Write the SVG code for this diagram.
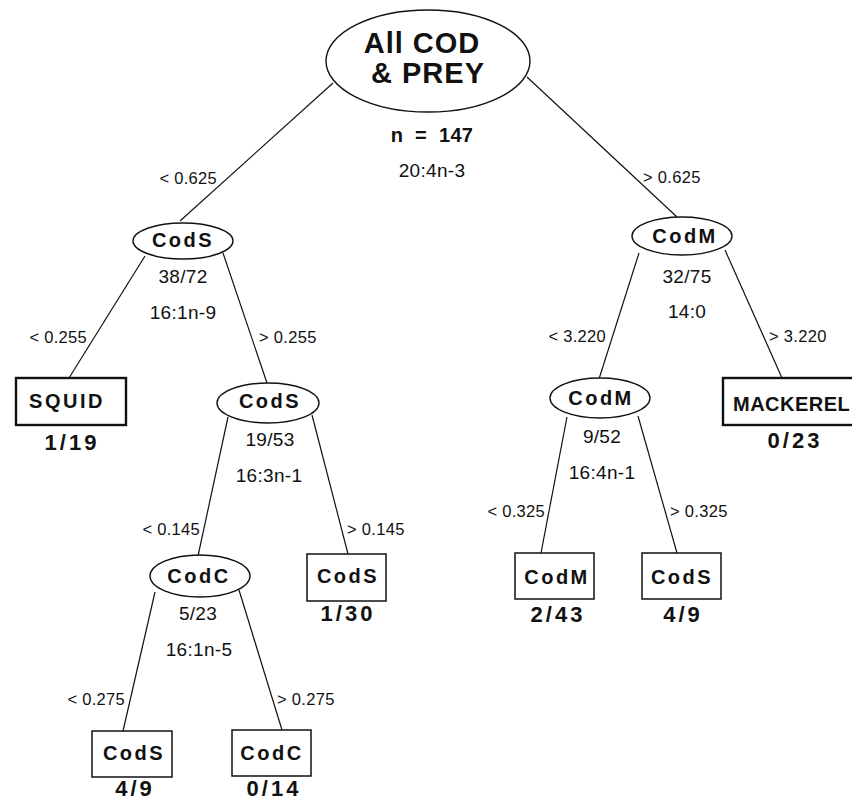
<svg xmlns="http://www.w3.org/2000/svg" width="852" height="800" viewBox="0 0 852 800">
  <style>
    .bg { fill: #ffffff; }
    .edge { stroke: #111; stroke-width: 1.2; fill: none; }
    .oval { fill: #fff; stroke: #111; stroke-width: 1.4; }
    .box { fill: #fff; stroke: #111; stroke-width: 1.5; }
    .box.heavy { stroke-width: 2.4; }
    .name { font-family: "Liberation Sans", Arial, sans-serif; font-weight: bold; font-size: 20px; letter-spacing: 2.5px; fill: #111; text-anchor: middle; }
    .root { font-family: "Liberation Sans", Arial, sans-serif; font-weight: bold; font-size: 29px; letter-spacing: 1px; fill: #111; text-anchor: middle; }
    .count { font-family: "Liberation Sans", Arial, sans-serif; font-weight: bold; font-size: 22px; letter-spacing: 3px; fill: #111; text-anchor: middle; }
    .stat { font-family: "Liberation Sans", Arial, sans-serif; font-size: 19px; letter-spacing: 0.3px; fill: #111; text-anchor: middle; }
    .split { font-family: "Liberation Sans", Arial, sans-serif; font-size: 16.5px; letter-spacing: 0.3px; fill: #111; }
    .end { text-anchor: end; }
  </style>
  <rect class="bg" x="0" y="0" width="852" height="800"/>

  <!-- connectors and split thresholds -->
  <g id="connectors">
    <line class="edge" x1="333" y1="83" x2="180" y2="221"/>
    <line class="edge" x1="527" y1="77" x2="677" y2="217"/>
    <line class="edge" x1="145" y1="256" x2="69" y2="378"/>
    <line class="edge" x1="223" y1="253" x2="267" y2="383"/>
    <line class="edge" x1="228" y1="417" x2="198" y2="556"/>
    <line class="edge" x1="312" y1="415" x2="348" y2="554"/>
    <line class="edge" x1="155" y1="592" x2="123" y2="731"/>
    <line class="edge" x1="239" y1="590" x2="282" y2="730"/>
    <line class="edge" x1="639" y1="253" x2="599" y2="379"/>
    <line class="edge" x1="725" y1="250" x2="782" y2="378"/>
    <line class="edge" x1="567" y1="417" x2="541" y2="553"/>
    <line class="edge" x1="638" y1="416" x2="677" y2="553"/>

    <text class="split end" x="217" y="184">&lt; 0.625</text>
    <text class="split" x="643" y="183">&gt; 0.625</text>
    <text class="split end" x="87" y="343">&lt; 0.255</text>
    <text class="split" x="259" y="343">&gt; 0.255</text>
    <text class="split end" x="200" y="535">&lt; 0.145</text>
    <text class="split" x="347" y="535">&gt; 0.145</text>
    <text class="split end" x="125" y="705">&lt; 0.275</text>
    <text class="split" x="277" y="705">&gt; 0.275</text>
    <text class="split end" x="606" y="342">&lt; 3.220</text>
    <text class="split" x="769" y="342">&gt; 3.220</text>
    <text class="split end" x="545" y="517">&lt; 0.325</text>
    <text class="split" x="670" y="517">&gt; 0.325</text>
  </g>

  <!-- root -->
  <g id="root">
    <ellipse class="oval" cx="428" cy="61" rx="102" ry="51"/>
    <text class="root" x="422" y="53">All COD</text>
    <text class="root" x="428" y="83">&amp; PREY</text>
    <text class="stat" x="432" y="142" style="font-weight:bold;font-size:20px;word-spacing:6px">n = 147</text>
    <text class="stat" x="432" y="177">20:4n-3</text>
  </g>

  <!-- left branch -->
  <g id="cods-1">
    <ellipse class="oval" cx="183" cy="241" rx="50" ry="18"/>
    <text class="name" x="183" y="247">CodS</text>
    <text class="stat" x="183" y="283">38/72</text>
    <text class="stat" x="183" y="319">16:1n-9</text>
  </g>
  <g id="squid">
    <rect class="box heavy" x="16" y="378" width="110" height="47"/>
    <text class="name" x="67" y="408">SQUID</text>
    <text class="count" x="72" y="450">1/19</text>
  </g>
  <g id="cods-2">
    <ellipse class="oval" cx="268" cy="403" rx="51" ry="20"/>
    <text class="name" x="270" y="408">CodS</text>
    <text class="stat" x="270" y="446">19/53</text>
    <text class="stat" x="269" y="482">16:3n-1</text>
  </g>
  <g id="codc-1">
    <ellipse class="oval" cx="200" cy="576" rx="50" ry="21"/>
    <text class="name" x="199" y="583">CodC</text>
    <text class="stat" x="198" y="620">5/23</text>
    <text class="stat" x="199" y="656">16:1n-5</text>
  </g>
  <g id="cods-leaf-a">
    <rect class="box" x="307" y="554" width="79" height="47"/>
    <text class="name" x="348" y="583">CodS</text>
    <text class="count" x="348" y="621">1/30</text>
  </g>
  <g id="cods-leaf-b">
    <rect class="box" x="92" y="731" width="80" height="46"/>
    <text class="name" x="134" y="760">CodS</text>
    <text class="count" x="135" y="796">4/9</text>
  </g>
  <g id="codc-leaf">
    <rect class="box" x="232" y="730" width="79" height="46"/>
    <text class="name" x="272" y="760">CodC</text>
    <text class="count" x="274" y="796">0/14</text>
  </g>

  <!-- right branch -->
  <g id="codm-1">
    <ellipse class="oval" cx="682" cy="236" rx="50" ry="19"/>
    <text class="name" x="685" y="243">CodM</text>
    <text class="stat" x="687" y="283">32/75</text>
    <text class="stat" x="687" y="318">14:0</text>
  </g>
  <g id="mackerel">
    <rect class="box heavy" x="723" y="378" width="140" height="47"/>
    <text class="name" x="733" y="411" style="text-anchor:start;letter-spacing:0.5px">MACKEREL</text>
    <text class="count" x="795" y="448">0/23</text>
  </g>
  <g id="codm-2">
    <ellipse class="oval" cx="600" cy="398" rx="50" ry="20"/>
    <text class="name" x="601" y="405">CodM</text>
    <text class="stat" x="602" y="443">9/52</text>
    <text class="stat" x="602" y="479">16:4n-1</text>
  </g>
  <g id="codm-leaf">
    <rect class="box" x="515" y="553" width="79" height="46"/>
    <text class="name" x="557" y="584">CodM</text>
    <text class="count" x="558" y="622">2/43</text>
  </g>
  <g id="cods-leaf-c">
    <rect class="box" x="642" y="553" width="79" height="46"/>
    <text class="name" x="682" y="584">CodS</text>
    <text class="count" x="683" y="622">4/9</text>
  </g>
</svg>
